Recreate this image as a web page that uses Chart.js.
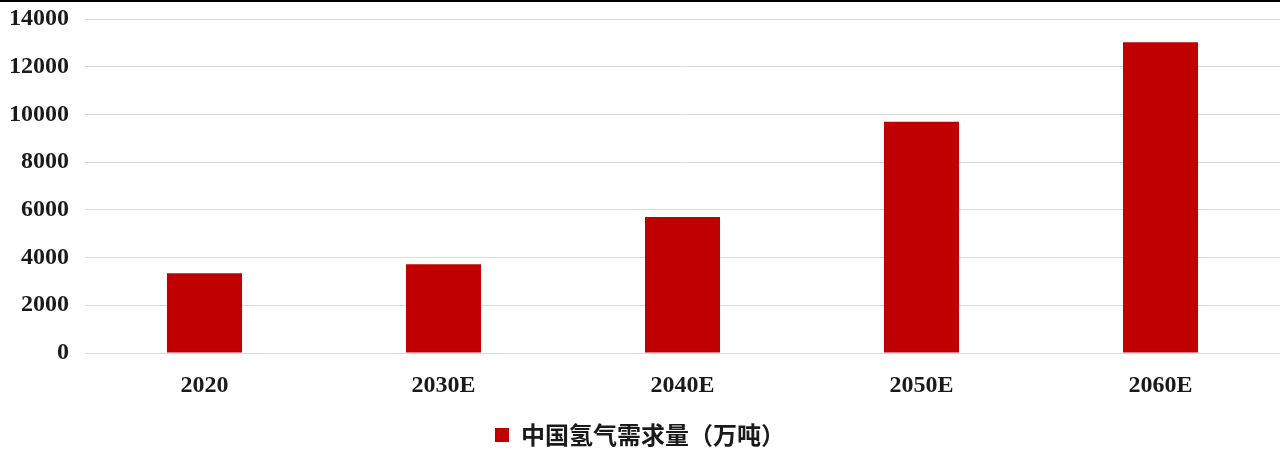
<!DOCTYPE html>
<html>
<head>
<meta charset="utf-8">
<script src="https://cdn.jsdelivr.net/npm/chart.js@4/dist/chart.umd.min.js"></script>
<style>
    html, body { margin: 0; padding: 0; background: #fff; }
    #wrap { position: relative; width: 1285px; height: 450px; }
</style>
</head>
<body>
<div id="wrap"><canvas id="demandChart"></canvas></div>
<script>
const years = ['2020', '2030E', '2040E', '2050E', '2060E'];
const demand = [3342, 3715, 5700, 9690, 13030];
const seriesName = '中国氢气需求量（万吨）';
const yMax = 14000;
const yStep = 2000;

const serifBold = {
    family: '"Liberation Serif", "Times New Roman", serif',
    size: 24,
    weight: 'bold'
};

// thin black rule along the top edge
const topRule = {
    id: 'topRule',
    afterDraw(chart) {
        const ctx = chart.ctx;
        ctx.save();
        ctx.fillStyle = '#000';
        ctx.fillRect(0, 0, chart.chartArea.right, 2);
        ctx.restore();
    }
};

new Chart(document.getElementById('demandChart'), {
    type: 'bar',
    data: {
        labels: years,
        datasets: [{
            label: seriesName,
            data: demand,
            backgroundColor: '#c00000',
            borderWidth: 0,
            categoryPercentage: 1,
            barPercentage: 0.314
        }]
    },
    options: {
        responsive: true,
        maintainAspectRatio: false,
        animation: false,
        layout: {
            padding: { left: 0, right: 5, top: 19, bottom: -7 }
        },
        scales: {
            x: {
                grid: { display: false },
                border: { display: false },
                ticks: {
                    color: '#1a1a1a',
                    font: serifBold,
                    padding: 10
                },
                afterFit(scale) {
                    scale.height = 67;
                }
            },
            y: {
                min: 0,
                max: yMax,
                ticks: {
                    stepSize: yStep,
                    color: '#1a1a1a',
                    font: serifBold,
                    padding: 16,
                    callback: (v) => String(v)
                },
                grid: {
                    color: '#d9d9d9',
                    lineWidth: 1,
                    drawTicks: false
                },
                border: { display: false },
                afterFit(scale) {
                    scale.width = 85;
                    scale.paddingTop = 0;
                    scale.paddingBottom = 0;
                }
            }
        },
        plugins: {
            legend: {
                position: 'bottom',
                labels: {
                    boxWidth: 14,
                    boxHeight: 14,
                    padding: 3,
                    color: '#1a1a1a',
                    font: {
                        family: '"Noto Sans CJK SC", sans-serif',
                        size: 24,
                        weight: 'bold'
                    }
                }
            },
            tooltip: { enabled: false }
        }
    },
    plugins: [topRule]
});
</script>
</body>
</html>
